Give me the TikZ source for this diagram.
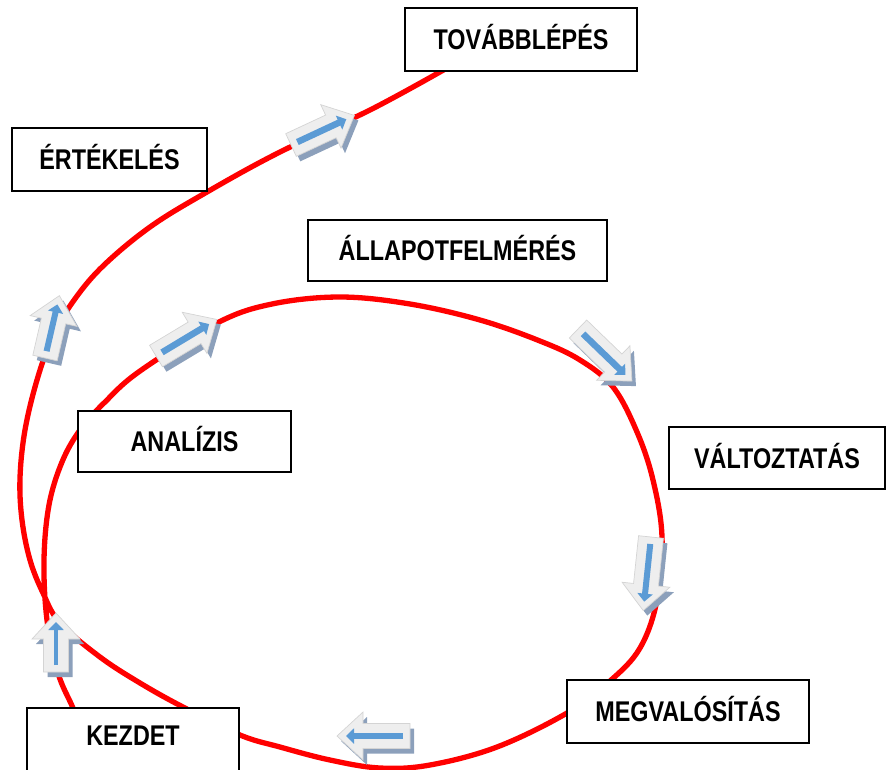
\documentclass[tikz,border=0pt]{standalone}
\usepackage{fontspec}
\usetikzlibrary{arrows.meta}
\newfontfamily\labelfont{Liberation Sans}[FakeStretch=0.82]
\definecolor{loopred}{RGB}{255,0,0}
\definecolor{arrowbody}{RGB}{238,238,238}
\definecolor{arrowedge}{RGB}{212,212,212}
\definecolor{arrowshade}{RGB}{140,160,187}
\definecolor{arrowcore}{RGB}{91,155,213}

% block arrow: tail centre (#1,#2), direction angle #3, length #4, core width #5
\newcommand\flowarrow[5]{%
  \begin{scope}[shift={(#1+4,#2+5)},rotate=#3]
    \fill[arrowshade] (0,-12.5) -- ({#4-26},-12.5) -- ({#4-26},-24) -- (#4,0)
      -- ({#4-26},24) -- ({#4-26},12.5) -- (0,12.5) -- cycle;
  \end{scope}
  \begin{scope}[shift={(#1,#2)},rotate=#3]
    \filldraw[fill=arrowbody, draw=arrowedge, line width=0.7pt]
      (0,-12.5) -- ({#4-26},-12.5) -- ({#4-26},-24) -- (#4,0)
      -- ({#4-26},24) -- ({#4-26},12.5) -- (0,12.5) -- cycle;
    \draw[arrowcore,line width=#5,-{Triangle[length=8pt,width=15pt]}]
      (7,0) -- ({#4-9},0);
  \end{scope}}

\tikzset{
  stagebox/.style={draw=black, line width=1.6pt, fill=white, inner sep=0pt,
    text height=20.5pt, text depth=0pt,
    font=\labelfont\bfseries\fontsize{28.5}{30}\selectfont},
  loopline/.style={draw=loopred, line width=5.3pt}
}

\begin{document}
\begin{tikzpicture}[x=1pt,y=-1pt]
\useasboundingbox (0,0) rectangle (886,769);

% the cycle: from the start, round the inner loop, back past the start, out to the next step
\draw[loopline] plot[smooth, tension=0.6] coordinates {
  (85,738) (73,708) (58,673) (47,620) (44,560) (49,505) (62,462) (80,430)
  (105,402) (140,371) (217,323) (272,304) (340,297) (410,304) (480,320)
  (540,341) (580,360) (613,387) (637,432) (653,480) (662,537) (657,600)
  (640,648) (610,681) (567,713) (497,747) (430,765) (380,768) (330,760)
  (280,747) (240,735) (183,707) (140,683) (100,657) (60,623) (43,593)
  (30,560) (22,520) (20,478) (25,430) (37,380) (52,338) (72,303)
  (102,267) (150,227) (207,192) (280,152) (370,110) (447,68)};

% direction markers along the curve
\flowarrow{291}{145}{25}{70}{6.5pt}
\flowarrow{45}{358}{77}{64}{6pt}
\flowarrow{156}{356}{31}{71}{6.5pt}
\flowarrow{578}{329}{-44}{75}{6.5pt}
\flowarrow{651}{537}{-96}{74}{6pt}
\flowarrow{410}{736}{180}{73}{6.5pt}
\flowarrow{56}{672}{90}{59}{4.5pt}

% stages
\node[stagebox, minimum width=232pt, minimum height=63pt] (tovabb) at (521,39.5) {TOVÁBBLÉPÉS};
\node[stagebox, minimum width=195pt, minimum height=63pt] (ertek) at (109.5,159.5) {ÉRTÉKELÉS};
\node[stagebox, minimum width=299pt, minimum height=61pt] (allapot) at (457.5,250.5) {ÁLLAPOTFELMÉRÉS\hspace{24pt}};
\node[stagebox, minimum width=213pt, minimum height=61pt] (anal) at (184.5,441.5) {ANALÍZIS};
\node[stagebox, minimum width=216pt, minimum height=62pt] (valt) at (777,458) {VÁLTOZTATÁS};
\node[stagebox, minimum width=242pt, minimum height=63pt] (megval) at (688,711.5) {MEGVALÓSÍTÁS};
\node[stagebox, minimum width=212pt, minimum height=63pt] (kezdet) at (133,739.5) {\raisebox{4pt}{KEZDET}};
\end{tikzpicture}
\end{document}
